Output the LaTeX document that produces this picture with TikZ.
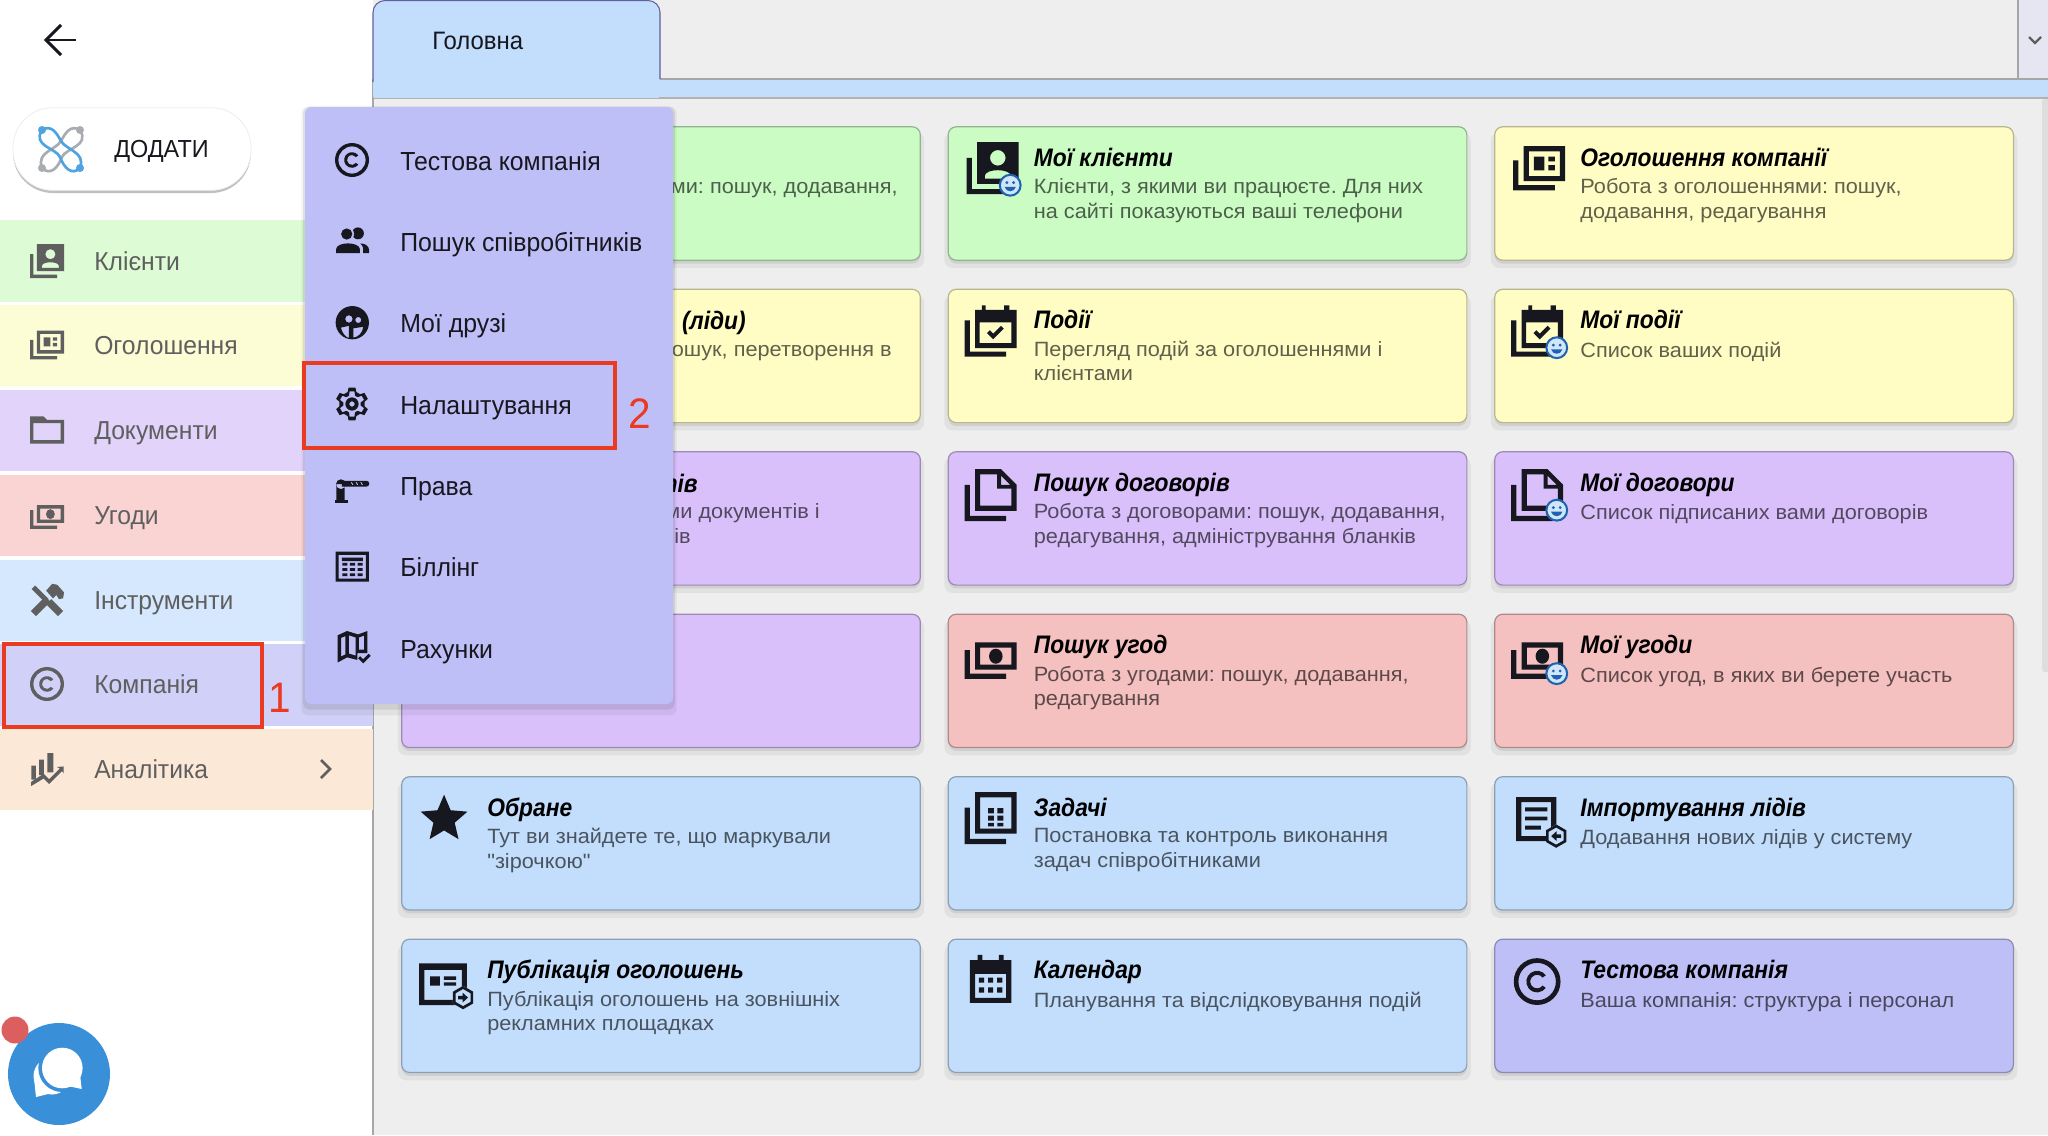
\documentclass[tikz,border=0pt]{standalone}
\usepackage{fontspec}
\setmainfont{Liberation Sans}
\newfontfamily\titlefont{Liberation Sans}[FakeStretch=0.9]
\newfontfamily\descfont{Liberation Sans}[FakeStretch=1.05]
\newfontfamily\labelfont{Liberation Sans}[FakeStretch=0.95]
\usepackage{xcolor}
\usetikzlibrary{calc,shadows}
\frenchspacing

\definecolor{cgreen}{HTML}{CAFCC4}
\definecolor{cyellow}{HTML}{FFFDC4}
\definecolor{cpurple}{HTML}{D9C0FB}
\definecolor{cred}{HTML}{F5C0C0}
\definecolor{cblue}{HTML}{C2DEFC}
\definecolor{cviolet}{HTML}{BFBFF7}
\definecolor{sgreen}{HTML}{DDFBD5}
\definecolor{syellow}{HTML}{FDFDD5}
\definecolor{spurple}{HTML}{E2D3FB}
\definecolor{sred}{HTML}{FAD3D3}
\definecolor{sblue}{HTML}{D5E8FD}
\definecolor{sviolet}{HTML}{D0D0F8}
\definecolor{speach}{HTML}{FCE8D6}
\definecolor{pagebg}{HTML}{EEEEEE}
\definecolor{markred}{HTML}{EA3A22}
\definecolor{sidegray}{HTML}{5F5F5F}
\definecolor{iconblack}{HTML}{17171F}
\definecolor{badgeblue}{HTML}{1E62B0}
\definecolor{badgebg}{HTML}{CFE6FA}
\definecolor{chatblue}{HTML}{3990D8}
\definecolor{chatred}{HTML}{DB5F5F}
\definecolor{logoblue}{HTML}{4FA3E0}
\definecolor{logogray}{HTML}{A9ADB2}
\definecolor{thumbgray}{HTML}{DEDEDE}
\definecolor{corner}{HTML}{E6E6F2}
\colorlet{iconcol}{iconblack}

\newcommand{\stackL}{\fill[iconcol] (-10,-4)--(-8,-4)--(-8,8)--(6,8)--(6,10)--(-10,10)--cycle;}

\tikzset{
  icon col/.code={\colorlet{iconcol}{#1}},
  side icon/.style={scale=1.7,icon col=sidegray},
  menu icon/.style={scale=1.7,icon col=iconblack},
  card icon/.style={scale=2.6,icon col=iconblack},
  contact stack/.pic={
    \stackL
    \fill[iconcol,even odd rule] (-6,-10) rectangle (10,6) (2,-4) circle (3)
      (-3,4)--(-3,3) .. controls (-3,0) and (7,0) .. (7,3)--(7,4)--cycle;},
  ad stack/.pic={
    \fill[iconcol] (-10,-3)--(-8,-3)--(-8,6.5)--(6,6.5)--(6,8.5)--(-10,8.5)--cycle;
    \fill[iconcol,even odd rule] (-6,-8.5) rectangle (10,5) (-4,-6.5) rectangle (8,3)
      (-2,-4.5) rectangle (2,0.8) (3.5,-4.5) rectangle (6,-2.6) (3.5,-1.2) rectangle (6,0.8);},
  cal stack/.pic={
    \stackL
    \fill[iconcol] (-3.4,-9.7) rectangle (-1.9,-7) (5.2,-9.7) rectangle (7.2,-7);
    \fill[iconcol,even odd rule] (-6,-8) rectangle (10,6.7) (-4.2,-3.2) rectangle (8,4.8)
      (-0.3,-0.2)--(1,1.1)--(4,-1.9)--(5.1,-0.8)--(1,3.3)--(-1.4,0.9)--cycle;},
  doc stack/.pic={
    \stackL
    \fill[iconcol,even odd rule] (-6,-10)--(4,-10)--(10,-4)--(10,6)--(-6,6)--cycle
      (-4,-8)--(2.5,-8)--(2.5,-2.5)--(8,-2.5)--(8,4)--(-4,4)--cycle
      (4,-7.5)--(7.5,-4)--(4,-4)--cycle;},
  money stack/.pic={
    \fill[iconcol] (-10,-4)--(-8,-4)--(-8,5)--(6,5)--(6,7)--(-10,7)--cycle;
    \fill[iconcol,even odd rule] (-6,-7) rectangle (10,3.5) (-4,-5) rectangle (8,1.5)
      (2,-1.7) ellipse (2.6 and 2.9);},
  task stack/.pic={
    \stackL
    \fill[iconcol,even odd rule] (-6,-10) rectangle (10,6) (-4,-8) rectangle (8,4)
      (-1,-3.8) rectangle (1.3,-1.8) (2.6,-3.8) rectangle (4.9,-1.8)
      (-1,-1) rectangle (1.3,1) (2.6,-1) rectangle (4.9,1)
      (-1,1.8) rectangle (1.3,3.2) (2.6,1.8) rectangle (4.9,3.2);},
  folder icon/.pic={
    \fill[iconcol,even odd rule] (-10,-8)--(-2,-8)--(0,-6)--(10,-6)--(10,8)--(-10,8)--cycle
      (-8,-4) rectangle (8,6);},
  c icon/.pic={
    \fill[iconcol,even odd rule] (0,0) circle (10) (0,0) circle (8);
    \fill[iconcol] (3.7,-2.7) arc[start angle=-36,delta angle=-288,radius=4.6]
      --(2.3,1.7) arc[start angle=36,delta angle=288,radius=2.9] --cycle;},
  tools icon/.pic={
    \fill[iconcol] (-9,-6.5)--(-7,-8.5)--(1,-0.5)--(-1,1.5)--cycle;
    \fill[iconcol] (-0.5,2.5)--(2.5,-0.5)--(9.5,6.5)--(6.5,9.5)--cycle;
    \fill[iconcol] (-9.5,6.5)--(-6.5,9.5)--(2,1)--(-1,-2)--cycle;
    \fill[iconcol] (-0.5,-5.5)--(3,-9.5)--(6,-9)--(10,-4.5)--(9.5,-1)--(7,-0.5)--(5.5,-3)--(3.5,-1)--cycle;},
  chart icon/.pic={
    \fill[iconcol] (-9.2,-2) rectangle (-6.6,6.3) (-4.7,-5.5) rectangle (-1.8,3.6) (0.2,-9.4) rectangle (3.7,2);
    \fill[iconcol] (-9.3,7.6)--(-2,2.8)--(1.2,6)--(7.5,-0.3)--(5.8,-1.2)--(9.8,-1.5)--(9.8,2.5)--(8.8,1.2)--(1.2,8.8)--(-2,5.6)--(-9.3,10)--cycle;},
  people icon/.pic={
    \fill[iconcol] (3.5,-4.5) circle (3.5);
    \fill[cviolet] (-3.1,-4.1) circle (4.3);
    \fill[iconcol] (-3.1,-4.1) circle (3.3);
    \fill[iconcol] (-9.4,7.2)--(-9.4,5) .. controls (-9.4,0.2) and (4.7,0.2) .. (4.7,5)--(4.7,7.2)--cycle;
    \fill[iconcol] (6.5,7.2)--(6.5,4) .. controls (6.5,3) and (5.5,2) .. (4.8,1.5)
      .. controls (7.5,1.2) and (10,3) .. (10,5)--(10,7.2)--cycle;},
  face icon/.pic={
    \fill[iconcol,even odd rule] (0,0) circle (9.8) (-2,-2.2) circle (2.2) (3.5,-1.6) circle (1.8)
      (-6.7,2.9)--(-2,1.8)--(-2,9) .. controls (-4,8.5) and (-6,6) .. (-6.7,2.9)--cycle
      (0.6,8.8)--(0.6,3.3)--(6.5,2.4) .. controls (6,6) and (3.5,8.5) .. (0.6,8.8)--cycle;},
  gear icon/.pic={
    \fill[iconcol,even odd rule] (18:9.8) \foreach \a in {30,90,150,210,270,330}
        { -- (\a-12:9.8) -- (\a+12:9.8) -- (\a+20:7.5) -- (\a+40:7.5) } -- cycle
      (19:7.5) \foreach \a in {30,90,150,210,270,330}
        { -- (\a-11:7.5) -- (\a+11:7.5) -- (\a+20:5.2) -- (\a+40:5.2) } -- cycle
      (0,0) circle (3.9) (0,0) circle (1.6);},
  barrier icon/.pic={
    \fill[iconcol] (-6.5,-4) circle (2.9) (-9.2,-4) rectangle (-4.3,6) (-10,5.3) rectangle (-2.5,7);
    \fill[iconcol,even odd rule] (-6,-6) -- (8.5,-6) arc[start angle=-90,delta angle=180,radius=1.7] -- (-6,-2.6) -- cycle
      (-0.8,-5.2)--(0,-5.2)--(1,-3.4)--(0.2,-3.4)--cycle
      (2,-5.2)--(2.8,-5.2)--(3.8,-3.4)--(3,-3.4)--cycle
      (4.8,-5.2)--(5.6,-5.2)--(6.6,-3.4)--(5.8,-3.4)--cycle;},
  calc icon/.pic={
    \fill[iconcol,even odd rule] (-9.8,-8.8) rectangle (9.8,8.8) (-8,-7) rectangle (8,7)
      (-6.2,-5.3) rectangle (6.2,-3.3)
      (-5.9,-2.3) rectangle (-2.9,-0.7) (-1.4,-2.3) rectangle (1.6,-0.7) (3.1,-2.3) rectangle (6.1,-0.7)
      (-5.9,0.8) rectangle (-2.9,2.4) (-1.4,0.8) rectangle (1.6,2.4) (3.1,0.8) rectangle (6.1,2.4)
      (-5.9,3.9) rectangle (-2.9,5.6) (-1.4,3.9) rectangle (1.6,5.6) (3.1,3.9) rectangle (6.1,5.6);},
  map icon/.pic={
    \fill[iconcol,even odd rule] (-9,-7.5)--(-3.5,-10)--(3,-8)--(8.5,-10)--(8.5,3)--(2.5,3)--(2.5,7)--(-3.5,5.5)--(-9,8.5)--cycle
      (-7,-6)--(-4.5,-7)--(-4.5,3.8)--(-7,5)--cycle
      (-2.5,-7.5)--(1.5,-6.2)--(1.5,4.5)--(-2.5,3.2)--cycle
      (3.5,-6.2)--(6.5,-7.3)--(6.5,1)--(3.5,1)--cycle;
    \fill[iconcol] (3,6)--(4.2,4.8)--(6,6.6)--(9.2,3.4)--(10.4,4.6)--(6,9)--cycle;},
  star icon/.pic={
    \fill[iconcol,scale=.9] (0,5.27)--(6.18,9)--(4.54,1.97)--(10,-2.76)--(2.81,-3.37)--(0,-10)
      --(-2.81,-3.37)--(-10,-2.76)--(-4.54,1.97)--(-6.18,9)--cycle;},
  list icon/.pic={
    \fill[iconcol,even odd rule] (-8.5,-8.5) rectangle (7,8.5) (-6.5,-6.5) rectangle (5,6.5)
      (-5,-4.5) rectangle (3.5,-3) (-5,-1) rectangle (3.5,0.5) (-5,2.5) rectangle (1,4);},
  pub icon/.pic={
    \fill[iconcol,even odd rule] (-9.2,-8.5) rectangle (9.2,7.5) (-7.2,-6) rectangle (7.2,5.5)
      (-5,-3.5) rectangle (-1.2,0) (0.3,-3.5) rectangle (5,-2.2) (0.3,-1.2) rectangle (5,0);},
  plain cal/.pic={
    \fill[iconcol] (-5,-9.5) rectangle (-3.2,-6) (3.2,-9.5) rectangle (5,-6);
    \fill[iconcol,even odd rule] (-8,-7.5) rectangle (8,9) (-6,-2.2) rectangle (6,7)
      (-4.5,-0.8) rectangle (-2.5,1.2) (-1,-0.8) rectangle (1,1.2) (2.5,-0.8) rectangle (4.5,1.2)
      (-4.5,3) rectangle (-2.5,5) (-1,3) rectangle (1,5) (2.5,3) rectangle (4.5,5);},
  smile badge/.pic={
    \fill[badgebg] (0,0) circle (4.2);
    \fill[badgeblue,even odd rule] (0,0) circle (4.4) (0,0) circle (3.6);
    \fill[badgeblue] (-1.3,-1) circle (.6) (1.3,-1) circle (.6);
    \fill[badgeblue] (-2.2,.6) .. controls (-1.5,2.9) and (1.5,2.9) .. (2.2,.6)--cycle;},
  hex badge/.pic={
    \fill[cblue] (0,-4.5)--(3.9,-2.25)--(3.9,2.25)--(0,4.5)--(-3.9,2.25)--(-3.9,-2.25)--cycle;
    \fill[iconcol,even odd rule] (0,-4.5)--(3.9,-2.25)--(3.9,2.25)--(0,4.5)--(-3.9,2.25)--(-3.9,-2.25)--cycle
      (0,-3.3)--(2.9,-1.65)--(2.9,1.65)--(0,3.3)--(-2.9,1.65)--(-2.9,-1.65)--cycle;
    \fill[iconcol] (-.2,-1.9)--(1.9,0)--(-.2,1.9)--(-.2,.7)--(-1.9,.7)--(-1.9,-.7)--(-.2,-.7)--cycle;},
  hex back/.pic={
    \fill[cblue] (0,-4.5)--(3.9,-2.25)--(3.9,2.25)--(0,4.5)--(-3.9,2.25)--(-3.9,-2.25)--cycle;
    \fill[iconcol,even odd rule] (0,-4.5)--(3.9,-2.25)--(3.9,2.25)--(0,4.5)--(-3.9,2.25)--(-3.9,-2.25)--cycle
      (0,-3.3)--(2.9,-1.65)--(2.9,1.65)--(0,3.3)--(-2.9,1.65)--(-2.9,-1.65)--cycle;
    \fill[iconcol] (.2,-1.9)--(-1.9,0)--(.2,1.9)--(.2,.7)--(1.9,.7)--(1.9,-.7)--(.2,-.7)--cycle;},
}

\begin{document}
\begin{tikzpicture}[x=0.75pt,y=-0.75pt,node distance=121.85pt,
    card/.style={rectangle,rounded corners=6pt,minimum width=389pt,minimum height=100pt,inner sep=0pt,
      fill=#1,draw=#1!72!black,line width=.9pt,
      drop shadow={shadow xshift=0pt,shadow yshift=-5pt,shadow scale=1.015,opacity=.05,fill=black},
      drop shadow={shadow xshift=0pt,shadow yshift=-2.5pt,opacity=.08,fill=black}},
    next col/.style={right of=#1,node distance=409.9pt},
    side row/.style={rectangle,fill=#1,minimum width=280pt,minimum height=61pt,inner sep=0pt,node distance=63.6pt},
    card title/.style={anchor=base west,inner sep=0pt,text=black,font=\fontsize{19}{22}\selectfont\titlefont\bfseries\itshape},
    card desc/.style={anchor=north west,inner sep=0pt,align=left,text=black,text opacity=.62,
      font=\fontsize{15.5}{18.4}\selectfont\descfont,execute at begin node={\rule{0pt}{12.9pt}}},
    side label/.style={anchor=base west,inner sep=0pt,text=sidegray,font=\fontsize{19.5}{22}\selectfont\labelfont},
    menu label/.style={anchor=base west,inner sep=0pt,text=iconblack,font=\fontsize{19.6}{22}\selectfont\labelfont},
    mark box/.style={rectangle,draw=markred,line width=3pt,fill=none,inner sep=0pt},
    mark num/.style={inner sep=0pt,text=markred,font=\fontsize{32}{36}\selectfont\labelfont}]

  \useasboundingbox (0,0) rectangle (2048,1135);
  \fill[white] (0,0) rectangle (2048,1135);
  \fill[pagebg] (373,0) rectangle (2048,1135);
  \fill[thumbgray,rounded corners=2pt] (2042,99) rectangle (2060,672);
  \draw[gray!70,line width=.8pt] (373,79) -- (373,1135);

  % tab strip
  \fill[cblue] (373,79) rectangle (2048,98);
  \draw[gray!60,line width=.8pt] (373,98) -- (2048,98);
  \draw[gray!70,line width=.8pt] (660,79) -- (2048,79);
  \draw[fill=cblue,draw=gray!75!blue,line width=.8pt,rounded corners=9pt]
    (373,82) -- (373,0.5) -- (660,0.5) -- (660,79);
  \fill[cblue] (374,70) rectangle (659,98);
  \node[inner sep=0pt,anchor=base west,text=iconblack,font=\fontsize{18.9}{22}\selectfont\labelfont] (tab) at (432,49.3) {Головна};
  \fill[corner] (2018,0) rectangle (2048,78);
  \draw[gray!70,line width=.8pt] (2018,0) -- (2018,78);
  \draw[sidegray,line width=1.8pt] (2029,37) -- (2035,43) -- (2041,37);

  % left side
  \draw[iconblack,line width=2.2pt] (76,40) -- (46,40);
  \draw[iconblack,line width=2.2pt] (61,25) -- (46,40) -- (61,55);

  \node[rectangle,rounded corners=30pt,minimum width=178.5pt,minimum height=62pt,inner sep=0pt,fill=white,draw=gray!14,line width=.6pt,
    drop shadow={shadow xshift=0pt,shadow yshift=-2pt,opacity=.25,fill=black}] (add) at (132,149) {};
  \draw[logogray,line width=2pt] (80,130) .. controls (70,124) and (65,134) .. (61,141) .. controls (56,150) and (36,152) .. (42,168)
    .. controls (50,176) and (58,168) .. (62,157) .. controls (66,148) and (90,146) .. (80,130);
  \draw[logoblue,line width=2pt] (42,130) .. controls (52,124) and (57,134) .. (61,141) .. controls (66,150) and (86,152) .. (80,168)
    .. controls (72,176) and (64,168) .. (60,157) .. controls (56,148) and (32,146) .. (42,130);
  \fill[logoblue] (42,130) circle (4) (80,168) circle (4);
  \fill[logogray] (80,130) circle (4) (42,168) circle (4);
  \node[inner sep=0pt,anchor=base west,text=iconblack,font=\fontsize{18.5}{22}\selectfont\labelfont] (addtext) at (114,157.7) {ДОДАТИ};

  \node[side row=sgreen] (s1) at (186.5,261) {};
  \node[side row=syellow] (s2) [below of=s1] {};
  \node[side row=spurple] (s3) [below of=s2] {};
  \node[side row=sred] (s4) [below of=s3] {};
  \node[side row=sblue] (s5) [below of=s4] {};
  \node[side row=sviolet] (s6) [below of=s5] {};
  \node[side row=speach] (s7) [below of=s6] {};

  \node[side label] (l1) at (94,270) {Клієнти};
  \node[side label] (l2) at (94,354) {Оголошення};
  \node[side label] (l3) at (94,439) {Документи};
  \node[side label] (l4) at (94,524) {Угоди};
  \node[side label] (l5) at (94,609) {Інструменти};
  \node[side label] (l6) at (94,693) {Компанія};
  \node[side label] (l7) at (94,778) {Аналітика};

  \pic[side icon] at (47,261) {contact stack};
  \pic[side icon] at (47,345) {ad stack};
  \pic[side icon] at (47,430) {folder icon};
  \pic[side icon] at (47,517) {money stack};
  \pic[side icon] at (47,600) {tools icon};
  \pic[side icon] at (47,684) {c icon};
  \pic[side icon] at (47,769) {chart icon};
  \draw[sidegray,line width=2pt] (321,760) -- (330,769) -- (321,778);

  \fill[chatblue] (59,1074) circle (51);
  \fill[chatred] (15,1030) circle (13.5);
  \fill[white] (52,1076) circle (18.5);
  \fill[white] (34,1078) -- (36,1097) -- (52,1093) -- cycle;
  \fill[chatblue] (62.3,1068) circle (24);
  \fill[white] (62.3,1068) circle (20.3);
  \fill[white] (68,1086) -- (81.7,1089) -- (80,1074) -- cycle;

  % cards
  \node[card=cgreen] (c11) at (661,193.5) {};
  \node[card=cyellow] (c21) [below of=c11] {};
  \node[card=cpurple] (c31) [below of=c21] {};
  \node[card=cpurple] (c41) [below of=c31] {};
  \node[card=cblue] (c51) [below of=c41] {};
  \node[card=cblue] (c61) [below of=c51] {};
  \node[card=cgreen] (c12) [next col=c11] {};
  \node[card=cyellow] (c22) [below of=c12] {};
  \node[card=cpurple] (c32) [below of=c22] {};
  \node[card=cred] (c42) [below of=c32] {};
  \node[card=cblue] (c52) [below of=c42] {};
  \node[card=cblue] (c62) [below of=c52] {};
  \node[card=cyellow] (c13) [next col=c12] {};
  \node[card=cyellow] (c23) [below of=c13] {};
  \node[card=cpurple] (c33) [below of=c23] {};
  \node[card=cred] (c43) [below of=c33] {};
  \node[card=cblue] (c53) [below of=c43] {};
  \node[card=cviolet] (c63) [below of=c53] {};

  % what the menu leaves visible of the first column
  \node[card desc,anchor=north east] (d11) at (898,176.5) {ми: пошук, додавання,};
  \node[card title,anchor=base east] (t21) at (746,329) {(ліди)};
  \node[card desc,anchor=north east] (d21) at (892,339.5) {ошук, перетворення в};
  \node[card title,anchor=base east] (t31) at (698,492) {тів};
  \node[card desc,anchor=north east] (d31) at (820,501.5) {ми документів і};
  \node[card desc,anchor=north east] (d31b) at (691,526) {ів};

  \node[card title] (t51) at ($(c51.north west)+(86,40)$) {Обране};
  \node[card desc] (d51) at ($(c51.north west)+(86,52)$) {Тут ви знайдете те, що маркували\\"зірочкою"};
  \node[card title] (t61) at ($(c61.north west)+(86,40)$) {Публікація оголошень};
  \node[card desc] (d61) at ($(c61.north west)+(86,52)$) {Публікація оголошень на зовнішніх\\рекламних площадках};

  \node[card title] (t12) at ($(c12.north west)+(86,40)$) {Мої клієнти};
  \node[card desc] (d12) at ($(c12.north west)+(86,52)$) {Клієнти, з якими ви працюєте. Для них\\на сайті показуються ваші телефони};
  \node[card title] (t22) at ($(c22.north west)+(86,40)$) {Події};
  \node[card desc] (d22) at ($(c22.north west)+(86,52)$) {Перегляд подій за оголошеннями і\\клієнтами};
  \node[card title] (t32) at ($(c32.north west)+(86,40)$) {Пошук договорів};
  \node[card desc] (d32) at ($(c32.north west)+(86,52)$) {Робота з договорами: пошук, додавання,\\редагування, адміністрування бланків};
  \node[card title] (t42) at ($(c42.north west)+(86,40)$) {Пошук угод};
  \node[card desc] (d42) at ($(c42.north west)+(86,52)$) {Робота з угодами: пошук, додавання,\\редагування};
  \node[card title] (t52) at ($(c52.north west)+(86,40)$) {Задачі};
  \node[card desc] (d52) at ($(c52.north west)+(86,52)$) {Постановка та контроль виконання\\задач співробітниками};
  \node[card title] (t62) at ($(c62.north west)+(86,40)$) {Календар};
  \node[card desc] (d62) at ($(c62.north west)+(86,51.3)$) {Планування та відслідковування подій};

  \node[card title] (t13) at ($(c13.north west)+(86,40)$) {Оголошення компанії};
  \node[card desc] (d13) at ($(c13.north west)+(86,52)$) {Робота з оголошеннями: пошук,\\додавання, редагування};
  \node[card title] (t23) at ($(c23.north west)+(86,40)$) {Мої події};
  \node[card desc] (d23) at ($(c23.north west)+(86,51.3)$) {Список ваших подій};
  \node[card title] (t33) at ($(c33.north west)+(86,40)$) {Мої договори};
  \node[card desc] (d33) at ($(c33.north west)+(86,51.3)$) {Список підписаних вами договорів};
  \node[card title] (t43) at ($(c43.north west)+(86,40)$) {Мої угоди};
  \node[card desc] (d43) at ($(c43.north west)+(86,51.3)$) {Список угод, в яких ви берете участь};
  \node[card title] (t53) at ($(c53.north west)+(86,40)$) {Імпортування лідів};
  \node[card desc] (d53) at ($(c53.north west)+(86,51.3)$) {Додавання нових лідів у систему};
  \node[card title] (t63) at ($(c63.north west)+(86,40)$) {Тестова компанія};
  \node[card desc] (d63) at ($(c63.north west)+(86,51.3)$) {Ваша компанія: структура і персонал};

  \pic[card icon] at ($(c51.north west)+(43,42)$) {star icon};
  \pic[card icon] at ($(c61.north west)+(42,47)$) {pub icon};
  \pic[card icon] at ($(c61.north west)+(62,59)$) {hex badge};
  \pic[card icon] at ($(c12.north west)+(45,42)$) {contact stack};
  \pic[card icon] at ($(c12.north west)+(62.6,59)$) {smile badge};
  \pic[card icon] at ($(c22.north west)+(43,42)$) {cal stack};
  \pic[card icon] at ($(c32.north west)+(43,44)$) {doc stack};
  \pic[card icon] at ($(c42.north west)+(43,47)$) {money stack};
  \pic[card icon] at ($(c52.north west)+(43,42)$) {task stack};
  \pic[card icon] at ($(c62.north west)+(43,41)$) {plain cal};
  \pic[card icon] at ($(c13.north west)+(45,42)$) {ad stack};
  \pic[card icon] at ($(c23.north west)+(43,42)$) {cal stack};
  \pic[card icon] at ($(c23.north west)+(62.6,59)$) {smile badge};
  \pic[card icon] at ($(c33.north west)+(43,44)$) {doc stack};
  \pic[card icon] at ($(c33.north west)+(62.6,59)$) {smile badge};
  \pic[card icon] at ($(c43.north west)+(43,47)$) {money stack};
  \pic[card icon] at ($(c43.north west)+(62.6,60)$) {smile badge};
  \pic[card icon] at ($(c53.north west)+(44,43)$) {list icon};
  \pic[card icon] at ($(c53.north west)+(62,60)$) {hex back};
  \pic[card icon,scale=.9] at ($(c63.north west)+(43,43)$) {c icon};

  % popup menu
  \node[rectangle,rounded corners=5pt,minimum width=276pt,minimum height=447.75pt,inner sep=0pt,fill=cviolet,
    drop shadow={shadow xshift=0pt,shadow yshift=-4pt,shadow scale=1.02,opacity=.05,fill=black},
    drop shadow={shadow xshift=0pt,shadow yshift=-2pt,shadow scale=1.01,opacity=.08,fill=black}] (menu) at (489,405.5) {};
  \node[menu label] (m1) at (400,170) {Тестова компанія};
  \node[menu label] (m2) at (400,251.7) {Пошук співробітників};
  \node[menu label] (m3) at (400,332.7) {Мої друзі};
  \node[menu label] (m4) at (400,414) {Налаштування};
  \node[menu label] (m5) at (400,495.5) {Права};
  \node[menu label] (m6) at (400,576.5) {Біллінг};
  \node[menu label] (m7) at (400,658) {Рахунки};
  \pic[menu icon] at (352,160) {c icon};
  \pic[menu icon] at (352,241) {people icon};
  \pic[menu icon] at (352.3,322.7) {face icon};
  \pic[menu icon] at (352,404) {gear icon};
  \pic[menu icon] at (352,491) {barrier icon};
  \pic[menu icon] at (352.3,566.7) {calc icon};
  \pic[menu icon] at (353,648) {map icon};

  % red marks
  \node[mark box,minimum width=193.5pt,minimum height=62pt] (mark1) at (132.5,685.5) {};
  \node[mark num] (num1) at (280,698) {1};
  \node[mark box,minimum width=233.5pt,minimum height=64pt] (mark2) at (459.5,405.5) {};
  \node[mark num] (num2) at (640,414) {2};
\end{tikzpicture}
\end{document}
